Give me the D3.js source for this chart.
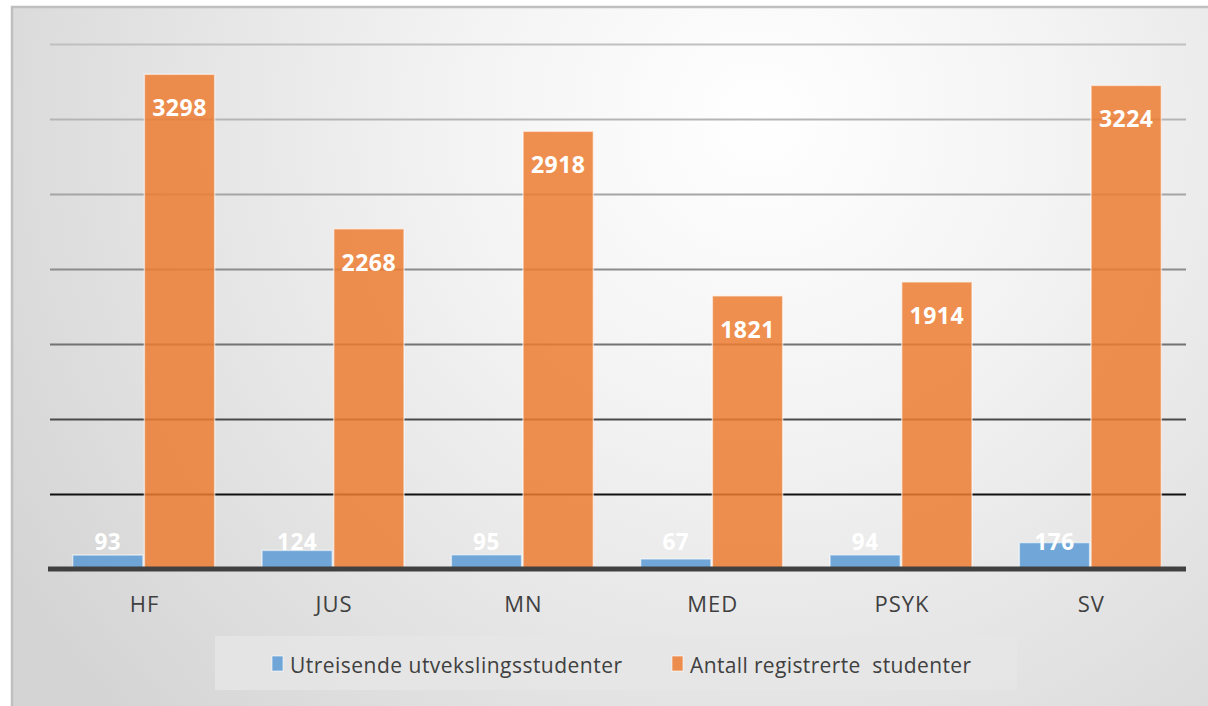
<!DOCTYPE html>
<html>
<head>
<meta charset="utf-8">
<script src="https://cdn.jsdelivr.net/npm/d3@7"></script>
<style>
  html, body { margin: 0; padding: 0; background: #ffffff; }
  svg { display: block; }
</style>
</head>
<body>
<svg id="chart" width="1208" height="706"></svg>
<script>
const categories = ["HF", "JUS", "MN", "MED", "PSYK", "SV"];
const seriesNames = ["Utreisende utvekslingsstudenter", "Antall registrerte  studenter"];
const utreisende = [93, 124, 95, 67, 94, 176];
const registrerte = [3298, 2268, 2918, 1821, 1914, 3224];
const yMax = 3500;

const W = 1208, H = 706;
const margin = { left: 50, right: 22, top: 44, bottom: 137 };
const svg = d3.select("#chart");
const defs = svg.append("defs");

const grad = defs.append("radialGradient")
  .attr("id", "bg").attr("gradientUnits", "userSpaceOnUse")
  .attr("cx", 760).attr("cy", 120).attr("r", 880);
grad.append("stop").attr("offset", "0%").attr("stop-color", "#ffffff");
grad.append("stop").attr("offset", "35%").attr("stop-color", "#f3f3f3");
grad.append("stop").attr("offset", "100%").attr("stop-color", "#d4d4d4");

svg.append("rect").attr("x", 12).attr("y", 7).attr("width", W + 20).attr("height", H + 20)
  .attr("fill", "url(#bg)").attr("stroke", "#bfbfbf").attr("stroke-width", 2.5);

const x0 = d3.scaleBand().domain(categories)
  .range([margin.left, W - margin.right])
  .paddingInner(0.25).paddingOuter(0.125);
const x1 = d3.scaleBand().domain(seriesNames)
  .range([0, x0.bandwidth()]).paddingInner(0.02);
const y = d3.scaleLinear().domain([0, yMax]).range([H - margin.bottom, margin.top]);

const gridColor = d3.scaleLinear()
  .domain([500, 1000, 1500, 2000, 2500, 3000, 3500])
  .range(["#111111", "#4a4a4a", "#737373", "#8c8c8c", "#a5a5a5", "#b5b5b5", "#c0c0c0"]);

// gridlines
const yAxis = d3.axisLeft(y).tickValues(y.ticks(7).filter(d => d > 0))
  .tickSize(-(W - margin.right - margin.left)).tickFormat("");
const gAxis = svg.append("g").attr("transform", `translate(${margin.left},0)`).call(yAxis);
gAxis.select(".domain").remove();
gAxis.selectAll(".tick line").attr("stroke", d => gridColor(d)).attr("stroke-width", 2);

const colors = ["#5b9bd5", "#ed7d31"];
const seriesData = [utreisende, registrerte];

const groups = svg.append("g").selectAll("g").data(categories).join("g")
  .attr("transform", d => `translate(${x0(d) - 1},0)`);

groups.each(function(cat, i) {
  const g = d3.select(this);
  seriesNames.forEach((s, k) => {
    const v = seriesData[k][i];
    g.append("rect")
      .attr("x", x1(s)).attr("width", x1.bandwidth())
      .attr("y", y(v)).attr("height", y(0) - y(v))
      .attr("fill", colors[k]).attr("fill-opacity", 0.85)
      .attr("stroke", "#ffffff").attr("stroke-opacity", 0.55).attr("stroke-width", 1.5);
  });
});

// axis baseline
svg.append("line")
  .attr("x1", margin.left - 2).attr("x2", W - margin.right)
  .attr("y1", y(0)).attr("y2", y(0))
  .attr("stroke", "#404040").attr("stroke-width", 5);

// labels
groups.each(function(cat, i) {
  const g = d3.select(this);
  g.append("text")
    .attr("x", x1(seriesNames[0]) + x1.bandwidth() / 2)
    .attr("y", y(0) - 19)
    .attr("text-anchor", "middle")
    .attr("font-family", "Open Sans").attr("font-weight", "bold")
    .attr("font-size", 22.5).attr("letter-spacing", 0.5).attr("fill", "#ffffff")
    .text(utreisende[i]);
  g.append("text")
    .attr("x", x1(seriesNames[1]) + x1.bandwidth() / 2)
    .attr("y", y(registrerte[i]) + 42)
    .attr("text-anchor", "middle")
    .attr("font-family", "Open Sans").attr("font-weight", "bold")
    .attr("font-size", 23).attr("letter-spacing", 0.5).attr("fill", "#ffffff")
    .text(registrerte[i]);
  g.append("text")
    .attr("x", x0.bandwidth() / 2 + 1)
    .attr("y", y(0) + 43)
    .attr("text-anchor", "middle")
    .attr("font-family", "Open Sans")
    .attr("font-size", 22).attr("letter-spacing", 1).attr("fill", "#404040")
    .text(cat);
});

// legend
const lg = svg.append("g");
lg.append("rect").attr("x", 215).attr("y", 636).attr("width", 802).attr("height", 54)
  .attr("fill", "#e6e6e6").attr("fill-opacity", 0.8);
const legendX = [272, 672];
const legendLen = [332, 281];
seriesNames.forEach((s, k) => {
  lg.append("rect").attr("x", legendX[k]).attr("y", 656).attr("width", 11).attr("height", 15)
    .attr("fill", colors[k]).attr("fill-opacity", 0.85)
    .attr("stroke", "#ffffff").attr("stroke-opacity", 0.6).attr("stroke-width", 1);
  lg.append("text").attr("x", legendX[k] + 18).attr("y", 673)
    .attr("font-family", "Open Sans").attr("font-size", 21).attr("fill", "#404040")
    .attr("textLength", legendLen[k]).attr("lengthAdjust", "spacing")
    .style("white-space", "pre")
    .text(s);
});
</script>
</body>
</html>
